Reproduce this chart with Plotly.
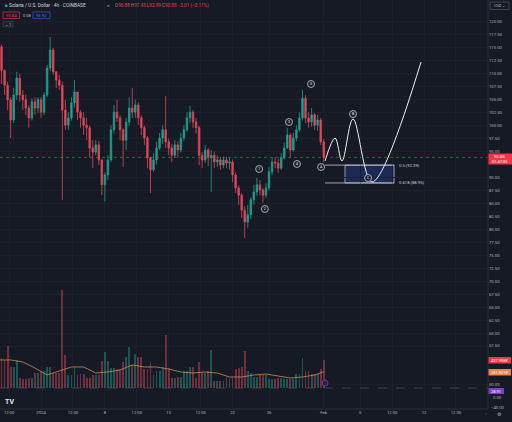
import plotly.graph_objects as go
import pandas as pd

# ---------------- data ----------------
times = pd.date_range(end="2024-02-01 00:00", periods=108, freq="8h")
first_open = 112.67
closes = [115.2, 110.7, 107.8, 105.0, 101.1, 105.9, 109.2, 105.9, 105.0, 103.4,
          101.5, 104.6, 103.4, 105.0, 102.6, 105.9, 111.1, 114.6, 110.4, 108.8,
          107.8, 103.0, 100.1, 101.5, 104.4, 106.5, 102.6, 101.5, 100.1, 99.6,
          95.7, 94.9, 96.3, 93.4, 88.6, 90.5, 93.4, 99.2, 102.6, 101.5,
          99.2, 97.2, 100.7, 103.4, 102.6, 104.0, 101.5, 99.6, 97.6, 93.8,
          91.5, 93.4, 95.7, 97.6, 99.2, 96.9, 95.7, 94.3, 96.3, 95.3,
          97.6, 99.2, 101.5, 102.6, 100.7, 99.6, 94.3, 93.4, 95.3, 93.8,
          94.3, 93.0, 93.4, 92.4, 93.4, 92.8, 93.0, 90.5, 88.0, 86.6,
          83.7, 81.4, 82.8, 85.7, 87.2, 88.6, 87.6, 86.6, 88.0, 91.1,
          93.0, 92.8, 91.8, 93.8, 95.7, 98.2, 95.3, 97.6, 99.2, 101.5,
          105.3, 101.5, 100.7, 102.1, 100.1, 101.1, 96.88, 93.88]
highs = [115.8, 115.6, 110.7, 108.5, 105.5, 107.3, 110.4, 110.0, 106.9, 106.0,
         104.0, 105.3, 105.5, 105.5, 105.5, 106.5, 111.7, 117.1, 115.0, 110.4,
         109.8, 108.5, 105.0, 102.6, 105.5, 108.8, 106.5, 103.0, 102.6, 101.5,
         100.0, 97.2, 97.2, 97.0, 93.5, 91.0, 94.3, 100.1, 104.0, 105.0,
         102.0, 99.5, 101.5, 105.5, 107.3, 105.0, 104.5, 102.0, 100.0, 98.0,
         94.0, 94.7, 96.9, 98.6, 100.1, 105.7, 97.5, 96.5, 97.2, 97.0,
         98.6, 100.1, 102.6, 103.8, 103.0, 101.5, 100.0, 94.9, 96.3, 95.7,
         95.3, 95.0, 94.3, 94.0, 94.0, 94.0, 93.8, 93.5, 91.0, 88.5,
         87.0, 84.5, 84.7, 86.2, 88.6, 89.9, 89.5, 88.0, 88.9, 92.0,
         93.8, 94.0, 93.5, 94.7, 96.7, 99.6, 98.5, 98.6, 100.1, 102.6,
         106.9, 105.9, 102.6, 103.4, 102.4, 102.1, 101.5, 97.43]
lows = [112.3, 108.0, 105.9, 103.0, 97.6, 100.5, 105.0, 104.6, 103.0, 102.0,
        99.6, 101.0, 102.1, 102.5, 101.5, 102.0, 105.5, 110.5, 109.8, 107.3,
        106.9, 85.7, 99.2, 99.2, 101.0, 103.5, 101.1, 99.6, 98.2, 97.2,
        93.8, 91.8, 94.3, 92.4, 86.6, 85.4, 89.5, 93.0, 98.5, 100.7,
        97.2, 92.0, 95.3, 100.0, 101.5, 101.5, 100.1, 98.2, 96.3, 91.8,
        87.0, 91.1, 92.5, 95.3, 96.5, 95.7, 94.3, 93.0, 93.8, 93.8,
        94.8, 97.0, 98.8, 100.5, 99.6, 98.5, 92.4, 91.8, 92.8, 92.2,
        87.2, 91.8, 92.0, 91.5, 91.8, 91.8, 91.5, 89.1, 87.0, 84.7,
        82.2, 78.3, 80.3, 82.0, 84.8, 86.5, 86.6, 85.1, 86.0, 87.5,
        90.5, 91.8, 90.9, 91.5, 93.5, 95.5, 93.8, 95.0, 97.0, 98.8,
        101.0, 100.5, 99.6, 99.8, 99.2, 99.0, 96.3, 92.99]
volumes = [500, 470, 440, 650, 330, 330, 440, 160, 135, 135,
           160, 160, 240, 240, 265, 265, 330, 330, 240, 240,
           240, 1529, 510, 200, 200, 330, 200, 225, 225, 160,
           160, 200, 200, 200, 425, 560, 425, 305, 305, 290,
           290, 400, 490, 640, 360, 530, 490, 490, 290, 290,
           400, 200, 265, 265, 330, 827, 305, 160, 160, 175,
           175, 265, 265, 330, 330, 160, 400, 240, 240, 265,
           600, 110, 110, 110, 110, 175, 135, 160, 290, 305,
           330, 577, 265, 240, 175, 175, 200, 200, 200, 135,
           135, 135, 160, 160, 135, 135, 135, 135, 225, 225,
           468, 265, 265, 225, 225, 225, 290, 438]
opens = [first_open] + closes[:-1]

# volume moving average at every 4th bar
ma_idx = [0, 4, 8, 12, 16, 20, 24, 28, 32, 36, 40, 44, 48, 52, 56, 60, 64, 68,
          72, 76, 80, 84, 88, 92, 96, 100, 104, 107]
ma_vals = [437, 437, 406, 312, 203, 265, 328, 328, 234, 250, 281, 359, 328, 328,
           296, 250, 234, 250, 234, 172, 172, 203, 218, 187, 156, 172, 203, 252]

# Elliott wave labels
wave_labels = ["1", "2", "3", "4", "5", "A", "B", "C"]
wave_dates = ["2024-01-24 22:00", "2024-01-25 13:00", "2024-01-28 04:30", "2024-01-29 01:40",
              "2024-01-30 14:30", "2024-01-31 17:00", "2024-02-04 05:00", "2024-02-05 20:40"]
wave_prices = [91.64, 83.93, 100.71, 92.61, 108.04, 92.03, 102.25, 89.91]

# projected path
path_dates = ["2024-02-01 03:20", "2024-02-02 05:45", "2024-02-03 00:00", "2024-02-04 05:00",
              "2024-02-06 07:00", "2024-02-11 16:00"]
path_prices = [93.19, 97.62, 93.19, 101.29, 89.14, 112.28]

# fibonacci levels
fib_names = ["0.5", "0.618"]
fib_prices = [92.39, 88.95]
fib_start, fib_end = "2024-02-01 03:20", "2024-02-08 17:00"
box_start = "2024-02-03 08:00"

last_price = 93.88

x_tick_vals = ["2023-12-28 12:00", "2024-01-01", "2024-01-04 12:00", "2024-01-08",
               "2024-01-11 12:00", "2024-01-15", "2024-01-18 12:00", "2024-01-22",
               "2024-01-26", "2024-02-01", "2024-02-05", "2024-02-08 12:00",
               "2024-02-12", "2024-02-15 12:00"]
x_tick_text = ["12:00", "2024", "12:00", "8", "12:00", "15", "12:00", "22", "26",
               "Feb", "5", "12:00", "12", "12:00"]
y_tick_vals = [50, 57.5, 60, 62.5, 65, 67.5, 70, 72.5, 75, 77.5, 80, 82.5, 85, 87.5,
               90, 95, 97.5, 100, 102.5, 105, 107.5, 110, 112.5, 115, 117.5, 120]

# ---------------- style ----------------
W, H = 512, 422
ML, MR, MT, MB = 0, 24, 0, 13
PW, PH = W - ML - MR, H - MT - MB
BG = "#161a25"
GRID = "#1c202b"
TXT = "#b2b5be"
UP = "#22a08c"
DN = "#e0485a"
FONT = "Roboto"


def P(x, y):
    return (x - ML) / PW, 1 - (y - MT) / PH


fig = go.Figure()

vol_colors = ["rgba(34,160,140,0.45)" if c >= o else "rgba(224,72,90,0.45)"
              for o, c in zip(opens, closes)]
fig.add_trace(go.Bar(x=times, y=volumes, marker=dict(color=vol_colors, line=dict(width=0)),
                     yaxis="y2", hoverinfo="skip", width=0.6 * 8 * 3600 * 1000))
fig.add_trace(go.Scatter(x=[times[i] for i in ma_idx], y=ma_vals, mode="lines",
                         line=dict(color="#c98a5a", width=0.8), yaxis="y2", hoverinfo="skip"))

fig.add_trace(go.Candlestick(
    x=times, open=opens, high=highs, low=lows, close=closes,
    increasing=dict(line=dict(color=UP, width=0.8), fillcolor=UP),
    decreasing=dict(line=dict(color=DN, width=0.8), fillcolor=DN),
    whiskerwidth=0, hoverinfo="skip"))

# projection path
fig.add_trace(go.Scatter(x=path_dates, y=path_prices, mode="lines",
                         line=dict(color="#f0f0f0", width=1, shape="spline", smoothing=1.0),
                         hoverinfo="skip"))

# fib lines
for p in fib_prices:
    fig.add_trace(go.Scatter(x=[fib_start, fib_end], y=[p, p], mode="lines",
                             line=dict(color="#c8cad0", width=0.8), hoverinfo="skip"))

# wave circles
fig.add_trace(go.Scatter(x=wave_dates, y=wave_prices, mode="markers+text", text=wave_labels,
                         textfont=dict(size=3.6, color="#e8e8e8", family=FONT),
                         textposition="middle center",
                         marker=dict(size=7, color="#1e222d", line=dict(color="#c8cad0", width=0.8)),
                         hoverinfo="skip"))

shapes = []
# fib box
shapes.append(dict(type="rect", xref="x", yref="y", x0=box_start, x1=fib_end,
                   y0=fib_prices[1], y1=fib_prices[0],
                   fillcolor="#1b2a55", line=dict(color="#b8bcc6", width=0.8), layer="below"))
# last price line
shapes.append(dict(type="line", xref="paper", yref="y", x0=0, x1=1, y0=last_price, y1=last_price,
                   line=dict(color="#f23645", width=0.6, dash="dot")))
# dashed line at bottom pane
shapes.append(dict(type="line", xref="paper", yref="paper", x0=0, x1=1,
                   y0=P(0, 388)[1], y1=P(0, 388)[1],
                   line=dict(color="#5d606b", width=0.6, dash="dash")))
# right axis border
shapes.append(dict(type="line", xref="paper", yref="paper", x0=1, x1=1, y0=0, y1=1,
                   line=dict(color="#2a2e39", width=1)))
shapes.append(dict(type="line", xref="paper", yref="paper", x0=0, x1=1, y0=0, y1=0,
                   line=dict(color="#2a2e39", width=1)))


def box(x0, y0, x1, y1, fill, line=None):
    a0 = P(x0, y0)
    a1 = P(x1, y1)
    shapes.append(dict(type="rect", xref="paper", yref="paper", x0=a0[0], x1=a1[0],
                       y0=a1[1], y1=a0[1], fillcolor=fill,
                       line=dict(color=line or fill, width=0.8 if line else 0)))


box(488.5, 153.5, 512, 164.5, "#f23645")
box(488.5, 357, 511, 363.5, "#f23645")
box(488.5, 369, 511, 375.5, "#e8864a")
box(488.5, 388, 504, 394, "#7b3fc4")
box(490, 2, 509, 9.5, BG, "#4a4e5a")
box(3, 12, 19.5, 18.5, BG, "#c03040")
box(33, 12, 50, 18.5, BG, "#3050c0")
box(3, 21.5, 13, 27, "#1e222d", "#3a3e4a")
# purple icon in volume pane
c = P(325, 383)
shapes.append(dict(type="circle", xref="paper", yref="paper",
                   x0=c[0] - 3 / PW, x1=c[0] + 3 / PW, y0=c[1] - 3 / PH, y1=c[1] + 3 / PH,
                   fillcolor="#2a1f4a", line=dict(color="#7b3fc4", width=0.8)))

ann = []


def text(x, y, s, size=4.4, color=TXT, anchor="left"):
    px_, py_ = P(x, y)
    ann.append(dict(xref="paper", yref="paper", x=px_, y=py_, text=s, showarrow=False,
                    xanchor=anchor, yanchor="middle",
                    font=dict(size=size, color=color, family=FONT)))


G = "#8a8e99"
R = "#f23645"
text(2.5, 6, "<span style='color:#2ab0a0'>■</span> Solana / U.S. Dollar · 4h · COINBASE",
     size=4.8, color="#d1d4dc")
text(105, 6, "<span style='color:#22a08c'>●</span>", size=4.5)
text(113, 6, f"<span style='color:{G}'>O</span><span style='color:{R}'>96.88</span> "
     f"<span style='color:{G}'>H</span><span style='color:{R}'>97.43</span> "
     f"<span style='color:{G}'>L</span><span style='color:{R}'>92.99</span> "
     f"<span style='color:{G}'>C</span><span style='color:{R}'>93.88</span> "
     f"<span style='color:{R}'>−3.01 (−3.11%)</span>", size=4.6)
text(11.2, 15.3, "93.84", size=4.2, color="#f23645", anchor="center")
text(27.5, 15.3, "0.08", size=4.0, color=TXT, anchor="center")
text(41.5, 15.3, "93.92", size=4.2, color="#4a7bff", anchor="center")
text(8, 24.3, "⌄ 1", size=4.0, color=TXT, anchor="center")
text(499.5, 5.8, "USD ⌄", size=3.8, color=TXT, anchor="center")

text(500, 156.5, "93.88", size=4.2, color="white", anchor="center")
text(500, 161.6, "01:47:05", size=4.0, color="white", anchor="center")
text(499.5, 360.3, "437.998K", size=4.0, color="white", anchor="center")
text(499.5, 372.3, "251.921K", size=4.0, color="white", anchor="center")
text(496, 391, "28.91", size=4.0, color="white", anchor="center")
text(497.5, 397.5, "0.00", size=4.2, color=TXT, anchor="center")
text(497.5, 407, "−40.00", size=4.2, color=TXT, anchor="center")
text(486, 413.5, "↑", size=4.2, color=TXT, anchor="center")
text(500, 413.5, "⚙", size=5, color=TXT, anchor="center")
text(9, 401.5, "<b>TV</b>", size=7, color="#e0e3eb", anchor="center")

# fib labels
for name, p in zip(fib_names, fib_prices):
    ann.append(dict(x=fib_end, y=p, xref="x", yref="y", text=f"{name} ({p:.2f})",
                    showarrow=False, xanchor="left", yanchor="middle", xshift=3,
                    font=dict(size=4.2, color="#d1d4dc", family=FONT)))

fig.update_layout(
    width=W, height=H, margin=dict(l=ML, r=MR, t=MT, b=MB),
    paper_bgcolor=BG, plot_bgcolor=BG, showlegend=False,
    font=dict(family=FONT, color=TXT, size=4.2),
    shapes=shapes, annotations=ann, bargap=0,
    xaxis=dict(type="date", range=["2023-12-27 12:00", "2024-02-19 00:15"],
               tickvals=x_tick_vals, ticktext=x_tick_text, showgrid=True, gridcolor=GRID,
               gridwidth=0.8, zeroline=False, showline=False, ticks="",
               tickfont=dict(size=4.2, color=TXT), rangeslider=dict(visible=False)),
    yaxis=dict(side="right", range=[45.35, 124.24], tickvals=y_tick_vals,
               ticktext=[f"{v:.2f}" for v in y_tick_vals], showgrid=True, gridcolor=GRID,
               gridwidth=0.8, zeroline=False, showline=False, ticks="",
               tickfont=dict(size=4.2, color=TXT)),
    yaxis2=dict(overlaying="y", range=[-327.6, 6052.8], visible=False, fixedrange=True),
)

fig.write_html("out.html")
